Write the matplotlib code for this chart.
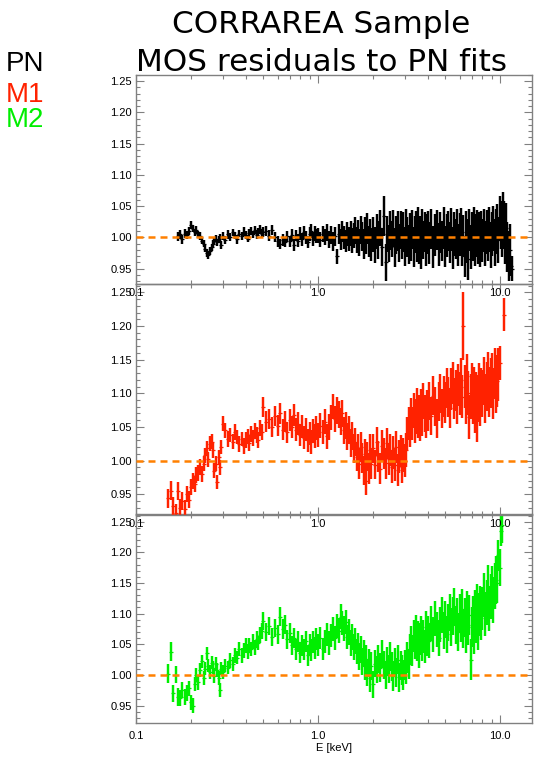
import numpy as np
import matplotlib
matplotlib.use("Agg")
import matplotlib.pyplot as plt
from matplotlib.ticker import FixedLocator, NullFormatter, MultipleLocator, FormatStrFormatter

# Energy grid shared by all three instruments (keV)
energy_kev = [
    0.150, 0.155, 0.160, 0.165, 0.170, 0.175, 0.180, 0.185, 0.190, 0.195,
    0.200, 0.205, 0.210, 0.215, 0.220, 0.225, 0.230, 0.235, 0.240, 0.245,
    0.250, 0.255, 0.260, 0.265, 0.270, 0.275, 0.280, 0.285, 0.290, 0.295,
    0.30, 0.31, 0.32, 0.33, 0.34, 0.35, 0.36, 0.37, 0.38, 0.39,
    0.40, 0.41, 0.42, 0.43, 0.44, 0.45, 0.46, 0.47, 0.48, 0.49,
    0.50, 0.52, 0.54, 0.56, 0.58, 0.60, 0.62, 0.64, 0.66, 0.68,
    0.70, 0.72, 0.74, 0.76, 0.78, 0.80, 0.82, 0.84, 0.86, 0.88,
    0.90, 0.92, 0.94, 0.96, 0.98,
    1.00, 1.03, 1.06, 1.09, 1.12, 1.15, 1.18, 1.21, 1.24, 1.27,
    1.30, 1.33, 1.36, 1.39, 1.42, 1.45, 1.48, 1.51, 1.54, 1.57,
    1.60, 1.63, 1.66, 1.69, 1.72, 1.75, 1.78, 1.81, 1.84, 1.87,
    1.90, 1.93, 1.96,
    2.00, 2.05, 2.10, 2.15, 2.20, 2.25, 2.30, 2.35, 2.40, 2.45,
    2.50, 2.55, 2.60, 2.65, 2.70, 2.75, 2.80, 2.85, 2.90, 2.95,
    3.00, 3.05, 3.10, 3.15, 3.20, 3.25, 3.30, 3.35, 3.40, 3.45,
    3.50, 3.55, 3.60, 3.65, 3.70, 3.75, 3.80, 3.85, 3.90, 3.95,
    4.0, 4.1, 4.2, 4.3, 4.4, 4.5, 4.6, 4.7, 4.8, 4.9,
    5.0, 5.1, 5.2, 5.3, 5.4, 5.5, 5.6, 5.7, 5.8, 5.9,
    6.0, 6.1, 6.2, 6.3, 6.4, 6.5, 6.6, 6.7, 6.8, 6.9,
    7.0, 7.1, 7.2, 7.3, 7.4, 7.5, 7.6, 7.7, 7.8, 7.9,
    8.00, 8.15, 8.30, 8.45, 8.60, 8.75, 8.90, 9.05, 9.20, 9.35,
    9.50, 9.65, 9.80, 9.95, 10.10, 10.25, 10.40, 10.55, 10.70, 10.85,
    11.00, 11.15, 11.30, 11.45, 11.60,
]

# Residual ratios in parts per thousand above/below 1, and 1-sigma errors (same units)
pn_first_bin = 4
pn_resid = [
    2, 5, -3, 6, 4, 10, 20, 14, 8, 12, 5, 2, -5, -10, -18, -25, -28, -22, -16, -10, -6, -2, -8, -3, 0, -12,
    2, -4, 5, 1, 8, 3, -3, 6, 2, 9, 4, -2, 7, 10, 5, 12, 4, 9, 13, 6,
    8, 11, 3, 12, 0, -6, -10, -4, -8, 2, -6, 4, -12, 3, -5, 6, -3, 8, 0, -7, 5, 10, -2, 7, 2,
    3, -4, 6, 1, 8, -3, 4, -7, 2, -30, 5, -3, 9, 0, -6, 5, -2, 7, -5, 3, 11, -4, 6, -8, 12, 1, -10, 9, -3, 14, -7, 4, -11,
    5, -12, 9, -4, 15, -15, 35, -40, 6, -10, 11, -3, 14, -16, 4, 10, -9, 12, -5, 8,
    -14, 15, 0, -11, 9, -6, 13, -15, 5, 11, -8, 16, -10, 3, -18, 12, -4, 8, -13, 6,
    10, -9, 14, -15, 4, 12, -11, 8, -5, 15, -14, 3, 10, -8, 13, -17, 6, -3, 11, -12,
    5, 14, -10, 2, -30, 9, -6, -35, 12, -15, 7, -4, 13, -12, 3, 10, -9, 6, -14, 8,
    -5, 11, -10, 9, -3, 12, -12, 6, 14, -8, 10, 15, -4, 30, 20, 5, 35, 20, -5, 15, -15, -30, -20, -45, -50,
]
pn_err = [
    7, 7, 7, 7, 6, 6, 6, 6, 6, 6, 6, 6, 6, 6, 6, 6, 6, 6, 6, 6, 6, 6, 6, 6, 6, 6,
    6, 6, 7, 6, 6, 6, 7, 6, 6, 7, 6, 6, 7, 6, 6, 7, 6, 6, 7, 6,
    8, 8, 9, 8, 8, 9, 8, 9, 8, 9, 9, 9, 10, 9, 10, 10, 10, 10, 11, 10, 11, 11, 11, 12, 11,
    12, 12, 13, 13, 14, 14, 14, 15, 15, 12, 16, 17, 17, 18, 18, 19, 19, 20, 20, 20, 21, 21, 22, 22, 23, 23, 24, 24, 24, 25, 25, 25, 26,
    28, 29, 28, 30, 29, 30, 32, 30, 29, 30, 31, 29, 30, 31, 30, 32, 30, 31, 30, 32,
    31, 30, 32, 31, 30, 32, 31, 32, 30, 32, 31, 33, 32, 31, 32, 33, 31, 32, 33, 32,
    32, 33, 32, 34, 33, 32, 34, 33, 32, 34, 33, 34, 32, 33, 34, 33, 35, 32, 34, 33,
    34, 33, 35, 34, 33, 34, 35, 33, 34, 35, 34, 33, 35, 34, 35, 34, 33, 35, 34, 35,
    34, 35, 36, 35, 34, 36, 37, 35, 36, 37, 36, 38, 37, 36, 38, 37, 38, 38, 38, 40, 40, 40, 42, 15, 20,
]

m1_first_bin = 0
m1_resid = [
    -56, -45, -68, -78, -45, -70, -60, -72, -50, -58, -40, -30, -35, -22, -18, -10, -20, -5, 8, 18,
    2, 25, 28, 15, -15, -5, -32, 5, -10, 20,
    55, 45, 32, 38, 28, 42, 35, 25, 32, 22, 30, 36, 26, 40, 34, 44, 38, 30, 48, 42,
    80, 58, 62, 50, 66, 52, 70, 46, 58, 42, 60, 50, 68, 46, 55, 38, 50, 34, 46, 30, 40, 28, 44, 36, 48,
    38, 52, 42, 58, 36, 50, 64, 80, 62, 74, 68, 58, 70, 45, 52, 36, 45, 26, 36, 18,
    28, 5, 18, -5, 20, 4, -15, 10, -30, 6, -12, 16, -5,
    18, -6, 28, 6, -12, 22, 10, -4, 26, 2, 16, -10, 12, -6, 20, -14, 6, 14, -10, 8,
    0, 16, 40, 55, 45, 68, 55, 75, 52, 66, 82, 60, 72, 55, 80, 64, 88, 70, 60, 78,
    72, 88, 66, 96, 80, 62, 88, 100, 78, 95, 86, 108, 94, 78, 106, 115, 92, 104, 86, 112,
    100, 120, 95, 200, 110, 88, 125, 100, 65, 95, 112, 88, 105, 75, 98, 62, 92, 110, 86, 102,
    100, 118, 92, 110, 125, 102, 115, 122, 100, 130, 110, 118, 128, 145, None, None, None, 217,
]
m1_err = [
    14, 14, 14, 14, 13, 13, 13, 13, 12, 12, 12, 12, 12, 12, 12, 12, 12, 11, 11, 11,
    11, 11, 11, 11, 11, 11, 11, 11, 11, 11,
    11, 11, 12, 11, 11, 12, 11, 12, 11, 12, 12, 11, 12, 12, 12, 12, 12, 12, 12, 12,
    15, 15, 15, 15, 15, 16, 16, 16, 16, 16, 16, 16, 16, 17, 17, 17, 17, 17, 17, 17, 17, 18, 18, 18, 18,
    18, 18, 18, 19, 19, 19, 19, 19, 19, 20, 20, 20, 20, 20, 20, 20, 21, 21, 21, 21,
    21, 21, 21, 22, 22, 22, 22, 22, 22, 22, 23, 23, 23,
    22, 22, 22, 23, 23, 23, 23, 23, 23, 23, 24, 24, 24, 24, 24, 24, 24, 24, 24, 25,
    25, 25, 25, 25, 25, 25, 25, 26, 26, 26, 26, 26, 26, 26, 26, 27, 27, 27, 27, 27,
    28, 28, 28, 29, 29, 29, 29, 29, 29, 30, 30, 30, 30, 30, 31, 31, 31, 31, 31, 31,
    32, 32, 32, 50, 32, 33, 33, 33, 33, 33, 33, 34, 34, 34, 34, 34, 35, 35, 35, 35,
    35, 36, 36, 36, 37, 37, 37, 38, 38, 38, 39, 39, 39, 25, 0, 0, 0, 25,
]

m2_first_bin = 0
m2_resid = [
    2, 38, -30, 0, -36, -38, -25, -36, -30, -22, -45, -50, -15, 0, -12, 8, 22, -5, 10, 35,
    15, 5, 20, 12, -2, 18, 8, -5, -25, 10,
    5, 15, 12, 24, 18, 32, 28, 42, 32, 40, 48, 38, 48, 42, 54, 45, 58, 52, 65, 72,
    88, 70, 80, 62, 76, 66, 95, 75, 82, 58, 68, 48, 60, 42, 54, 36, 48, 42, 55, 32, 50, 40, 54, 44, 58,
    48, 60, 42, 55, 66, 52, 64, 75, 60, 80, 72, 95, 85, 76, 86, 62, 70, 52, 62, 46,
    55, 38, 48, 30, 42, 22, 35, 14, 26, 4, 20, -5, 15,
    -15, 18, 8, 26, 12, 34, 16, 0, 22, 10, 30, 14, -2, 20, 4, 25, -4, 15, 8, 0,
    16, 10, 28, 18, 42, 55, 40, 64, 52, 72, 48, 62, 38, 58, 70, 50, 62, 46, 78, 58,
    68, 56, 84, 66, 92, 74, 60, 82, 98, 72, 90, 66, 86, 102, 78, 96, 110, 82, 94, 70,
    100, 86, 108, 76, 94, 68, 104, 82, 98, 25, 78, 94, 68, 104, 86, 115, 76, 98, 110, 92,
    108, 130, 100, 118, 142, 108, 128, 140, 122, 145, 155, 150, 195, 175, 235, 245,
]
m2_err = [
    15, 15, 14, 14, 14, 13, 13, 13, 13, 12, 12, 12, 12, 12, 12, 12, 11, 11, 11, 11,
    11, 11, 11, 11, 11, 11, 11, 11, 11, 11,
    11, 11, 11, 12, 11, 12, 11, 12, 12, 12, 12, 12, 12, 12, 12, 12, 13, 12, 13, 13,
    15, 15, 15, 15, 15, 16, 16, 16, 16, 16, 16, 16, 16, 17, 17, 17, 17, 17, 17, 17, 17, 18, 18, 18, 18,
    18, 18, 18, 19, 19, 19, 19, 19, 19, 20, 20, 20, 20, 20, 20, 20, 21, 21, 21, 21,
    21, 21, 21, 22, 22, 22, 22, 22, 22, 22, 23, 23, 23,
    22, 22, 22, 23, 23, 23, 23, 23, 23, 23, 24, 24, 24, 24, 24, 24, 24, 24, 24, 25,
    25, 25, 25, 25, 25, 25, 25, 26, 26, 26, 26, 26, 26, 26, 26, 27, 27, 27, 27, 27,
    28, 28, 28, 29, 29, 29, 29, 29, 29, 30, 30, 30, 30, 30, 31, 31, 31, 31, 31, 31,
    32, 32, 32, 32, 32, 33, 33, 33, 33, 33, 33, 34, 34, 34, 34, 34, 35, 35, 35, 35,
    35, 36, 36, 36, 37, 37, 37, 38, 38, 38, 39, 33, 25, 30, 25, 30,
]

instruments = ["PN", "M1", "M2"]
colors = ["black", "#ff2200", "#00ee00"]
x_major = [0.1, 1.0, 10.0]
x_major_labels = ["0.1", "1.0", "10.0"]
x_minor = [0.2, 0.3, 0.4, 0.5, 0.6, 0.7, 0.8, 0.9, 2, 3, 4, 5, 6, 7, 8, 9]

AXIS_GREY = "#808080"
REF_ORANGE = "#ff8000"

fig = plt.figure(figsize=(5.44, 7.58), dpi=100)
fig.patch.set_facecolor("white")

W, H = 544.0, 758.0
left_px, right_px = 136.0, 532.0
# (top, bottom) pixel edges and y-limits for the three stacked panels
panel_px = [(75.0, 284.0), (284.3, 515.0), (514.0, 723.3)]
panel_ylim = [(0.9255, 1.26), (0.919, 1.262), (0.921, 1.2625)]
series = [
    (pn_first_bin, pn_resid, pn_err),
    (m1_first_bin, m1_resid, m1_err),
    (m2_first_bin, m2_resid, m2_err),
]

for i, ((top, bot), ylim, (first, resid, err), color) in enumerate(
        zip(panel_px, panel_ylim, series, colors)):
    rect = [left_px / W, 1 - bot / H, (right_px - left_px) / W, (bot - top) / H]
    ax = fig.add_axes(rect)
    ax.patch.set_alpha(0)
    ax.set_zorder(3 - i)

    e = np.array(energy_kev[first:first + len(resid)])
    y = 1.0 + np.array(resid, dtype=float) / 1000.0
    dy = np.array(err, dtype=float) / 1000.0
    assert len(e) == len(resid) == len(err)

    # vertical error bars, thick so neighbouring bins merge into a band
    ax.vlines(e, y - dy, y + dy, color=color, lw=1.75, zorder=2)
    ax.plot(e, y, ls="none", marker="_", color=color, ms=3.5, mew=0.9, zorder=2)
    ax.axhline(1.0, color=REF_ORANGE, lw=1.8, dashes=(2.8, 2.0), zorder=5)

    ax.set_xscale("log")
    ax.set_xlim(0.1, 15.0)
    ax.set_ylim(*ylim)

    ax.xaxis.set_major_locator(FixedLocator(x_major))
    ax.set_xticklabels(x_major_labels)
    ax.xaxis.set_minor_locator(FixedLocator(x_minor))
    ax.xaxis.set_minor_formatter(NullFormatter())
    ax.yaxis.set_major_locator(MultipleLocator(0.05))
    ax.yaxis.set_minor_locator(MultipleLocator(0.01))
    ax.yaxis.set_major_formatter(FormatStrFormatter("%.2f"))

    ax.tick_params(which="both", direction="in", top=True, right=True,
                   color=AXIS_GREY, labelcolor="black", labelsize=8, width=0.8)
    ax.tick_params(which="major", length=6)
    ax.tick_params(which="minor", length=3)
    ax.tick_params(axis="y", pad=3)
    ax.tick_params(axis="x", pad=5.5 if i == 2 else 3)
    for lab in ax.get_xticklabels() + ax.get_yticklabels():
        lab.set_fontfamily("Liberation Sans")
    for sp in ax.spines.values():
        sp.set_color(AXIS_GREY)
        sp.set_linewidth(1.0)

fig.text(334 / W, 1 - 748 / H, "E [keV]", ha="center", va="center",
         fontsize=8, family="Liberation Sans")

# Title
fig.text(321 / W, 1 - 33 / H, "CORRAREA Sample", ha="center", va="baseline",
         fontsize=22.4, family="DejaVu Sans")
fig.text(321 / W, 1 - 70.7 / H, "MOS residuals to PN fits", ha="center",
         va="baseline", fontsize=22.4, family="DejaVu Sans")

# Instrument key
for name, col, base in zip(instruments, colors, [70.7, 101.7, 126.7]):
    fig.text(6 / W, 1 - base / H, name, ha="left", va="baseline",
             fontsize=20, color=col, family="Liberation Sans")

fig.savefig("out.png", dpi=100)
